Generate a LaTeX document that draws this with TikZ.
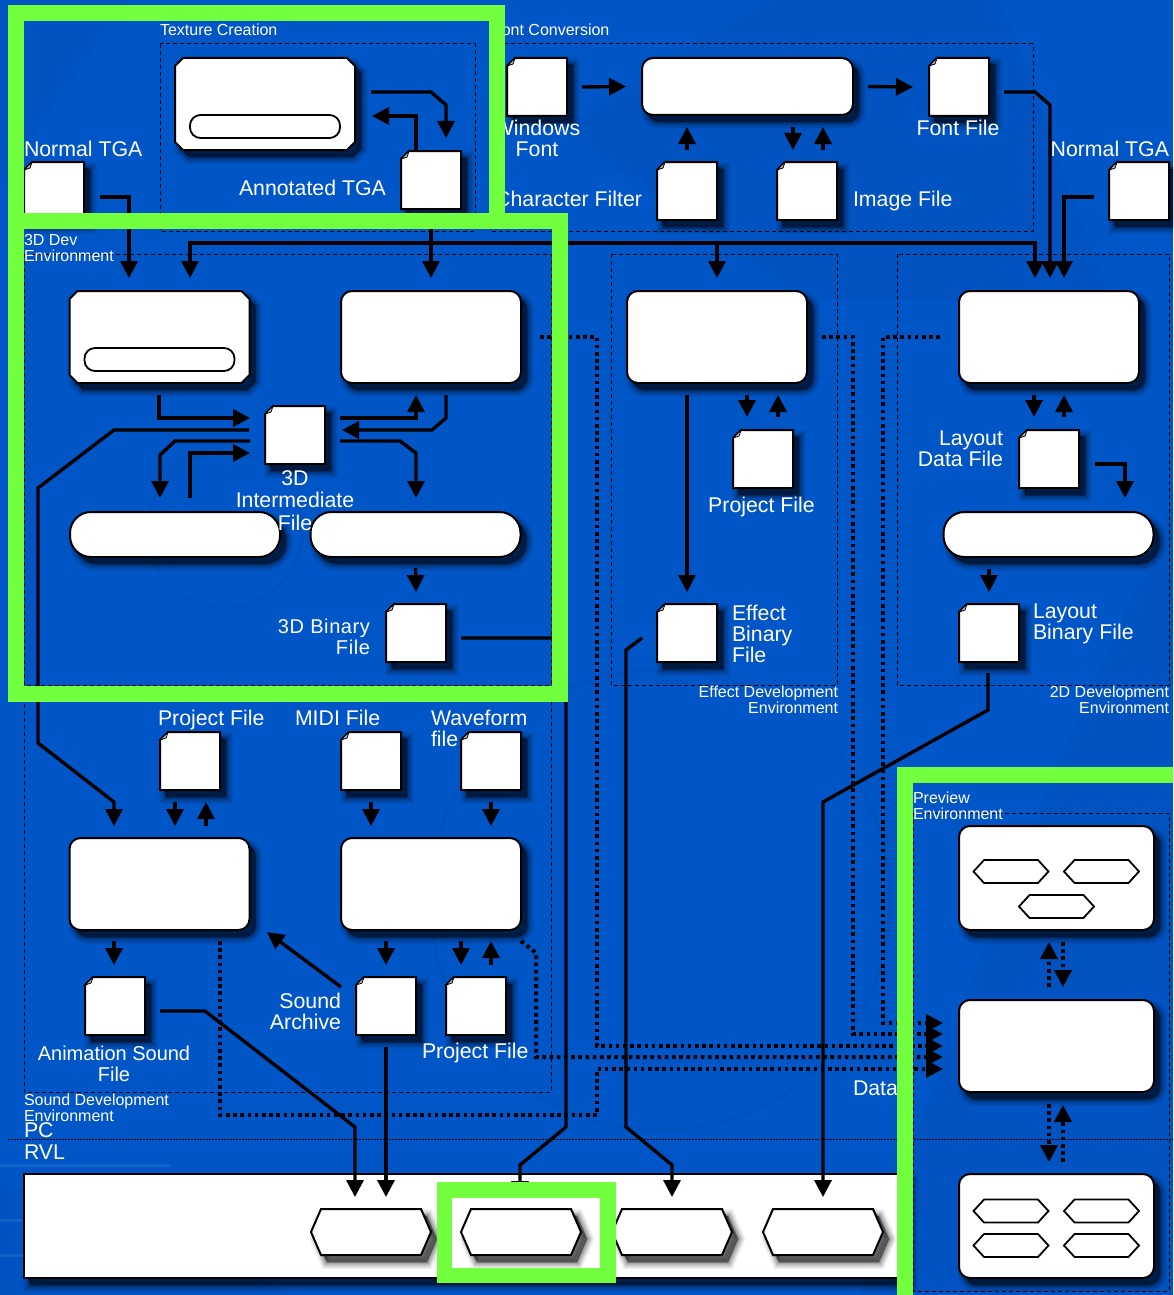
\documentclass[tikz,border=0pt]{standalone}
\usepackage{fontspec}
\setmainfont{Liberation Sans}
\usetikzlibrary{arrows.meta,shapes.symbols}
\definecolor{bgblue}{HTML}{0056C6}
\definecolor{bgdark}{HTML}{004FB8}
\definecolor{neon}{HTML}{72FF3E}
\tikzset{
  x=1pt,y=-1pt,
  every node/.style={inner sep=0pt,outer sep=0pt},
  shad/.style={
    preaction={draw=black,fill=black,line width=14pt,opacity=.05,transform canvas={xshift=6pt,yshift=-7pt}},
    preaction={draw=black,fill=black,line width=11.5pt,opacity=.06,transform canvas={xshift=6pt,yshift=-7pt}},
    preaction={draw=black,fill=black,line width=9pt,opacity=.08,transform canvas={xshift=6pt,yshift=-7pt}},
    preaction={draw=black,fill=black,line width=6.5pt,opacity=.10,transform canvas={xshift=6pt,yshift=-7pt}},
    preaction={draw=black,fill=black,line width=4pt,opacity=.12,transform canvas={xshift=6pt,yshift=-7pt}},
    preaction={draw=black,fill=black,line width=1.5pt,opacity=.16,transform canvas={xshift=6pt,yshift=-7pt}},
    preaction={fill=black,opacity=.2,transform canvas={xshift=4pt,yshift=-5pt}}},
  body/.style={draw=black,fill=white,line width=2pt},
  tool/.style={body,shad,rectangle,rounded corners=11pt,minimum width=#1,minimum height=92pt},
  tool/.default=180pt,
  snipbase/.style={rectangle,minimum width=180pt,minimum height=92pt},
  pill/.style={body,shad,rectangle,rounded corners=21pt,minimum width=210pt,minimum height=45pt},
  innerpill/.style={draw=black,fill=white,line width=1.8pt,rectangle,rounded corners=10.5pt,minimum width=150pt,minimum height=23pt},
  docbase/.style={rectangle,minimum width=60pt,minimum height=58pt},
  fold/.style={draw=black,fill=black!25,line width=.8pt},
  bighex/.style={body,shad,signal,signal to=west and east,signal pointer angle=133,minimum width=120pt,minimum height=46pt},
  smallhex/.style={draw=black,fill=white,line width=1.8pt,signal,signal to=west and east,signal pointer angle=95,minimum width=75pt,minimum height=23pt},
  band/.style={body,shad,rectangle,minimum width=881pt,minimum height=104pt},
  conn/.style={draw=black,line width=3.4pt},
  arr/.style={conn,-{Triangle[length=17pt,width=17pt]}},
  dots/.style={draw=black,line width=4pt,dash pattern=on 3.6pt off 3.6pt},
  dotarr/.style={dots,-{Triangle[length=17pt,width=17pt]}},
  group/.style={draw=black,line width=1pt,dash pattern=on 4pt off 3pt},
  neonbox/.style={draw=neon,line width=15.5pt},
  big/.style={text=white,font=\fontsize{21.3}{21}\selectfont,align=center},
  mid/.style={text=white,font=\fontsize{20}{21}\selectfont,align=center},
  small/.style={text=white,font=\fontsize{16}{16}\selectfont,align=left},
  smallr/.style={text=white,font=\fontsize{16}{16}\selectfont,align=right},
}
\newcommand\docnode[3]{%
  \node[docbase] (#1) at (#2,#3) {};
  \path[body,shad] ([shift={(-22,-29)}]#1.center) -- ([shift={(30,-29)}]#1.center) -- ([shift={(30,29)}]#1.center) -- ([shift={(-30,29)}]#1.center) -- ([shift={(-30,-21)}]#1.center) -- cycle;
  \filldraw[fold] ([shift={(-22,-29)}]#1.center) -- ([shift={(-24,-23)}]#1.center) -- ([shift={(-30,-21)}]#1.center) -- cycle;
}
\newcommand\snipnode[3]{%
  \node[snipbase] (#1) at (#2,#3) {};
  \path[body,shad] ([shift={(-82,-46)}]#1.center) -- ([shift={(82,-46)}]#1.center) -- ([shift={(90,-38)}]#1.center) -- ([shift={(90,38)}]#1.center) -- ([shift={(82,46)}]#1.center) -- ([shift={(-82,46)}]#1.center) -- ([shift={(-90,38)}]#1.center) -- ([shift={(-90,-38)}]#1.center) -- cycle;
}
\begin{document}
\begin{tikzpicture}
\useasboundingbox (0,0) rectangle (1173,1295);
\clip (0,0) rectangle (1173,1295);
% background
\fill[bgblue] (0,0) rectangle (1173,1295);
\fill[bgdark,opacity=.4] (1173,500) -- (1173,1295) -- (860,1295) -- (1000,900) -- cycle;
\fill[bgdark,opacity=.4] (0,1295) -- (0,1180) -- (300,1295) -- cycle;
\fill[bgdark,opacity=.4] (0,0) -- (130,0) -- (0,180) -- cycle;
\fill[bgdark,opacity=.3] (560,130) -- (760,0) -- (1000,0) -- (1110,300) -- (800,300) -- cycle;
\draw[black,opacity=.03,line width=3pt] (225,530) circle (78);
\draw[black,opacity=.03,line width=3pt] (660,900) circle (230);
\draw[white,opacity=.08,line width=3pt] (0,1165) -- (170,1165) (0,1220) -- (60,1220) (0,1255) -- (60,1255);

% environment frames
\draw[group] (160,44) rectangle (475,231);
\draw[group] (490,44) rectangle (1033,231);
\draw[group] (24,254) rectangle (551,685);
\draw[group] (611,254) rectangle (837,685);
\draw[group] (897,254) rectangle (1169,685);
\draw[group] (24,690) rectangle (551,1092);
\draw[group] (913,813) rectangle (1169,1291);
\draw[draw=black,line width=1pt,dash pattern=on 1.5pt off 1.5pt] (8,1139) -- (1173,1139);

% white platform band
\node[band] (bandrvl) at (464.5,1226) {};

% tools
\snipnode{texTool}{265}{104}
\node[innerpill] (texInner) at (265,126.5) {};
\node[tool=211pt,minimum height=57pt] (fontTool) at (747.5,86.5) {};
\snipnode{dccTool}{159.5}{337}
\node[innerpill] (dccInner) at (159.5,359.5) {};
\node[tool] (expTool) at (431,337) {};
\node[tool] (fxTool) at (717,337) {};
\node[tool] (layTool) at (1049,337) {};
\node[pill] (convA) at (175,534.5) {};
\node[pill] (convB) at (415.5,534.5) {};
\node[pill] (layConv) at (1048.5,534.5) {};
\node[tool] (animSnd) at (159.5,884) {};
\node[tool] (seqSnd) at (431,884) {};
\node[tool=195pt,minimum height=104pt] (prevA) at (1056.5,878) {};
\node[tool=195pt] (prevB) at (1056.5,1046) {};
\node[tool=195pt,minimum height=104pt] (prevC) at (1056.5,1226) {};
\node[smallhex] (hA) at (1011,871.5) {};
\node[smallhex] (hB) at (1101.5,871.5) {};
\node[smallhex] (hC) at (1056.5,906.5) {};
\node[smallhex] (hD) at (1011,1211) {};
\node[smallhex] (hE) at (1101.5,1211) {};
\node[smallhex] (hF) at (1011,1245.5) {};
\node[smallhex] (hG) at (1101.5,1245.5) {};
\node[bighex] (hexSnd) at (371,1232) {};
\node[bighex] (hexG3d) at (521,1232) {};
\node[bighex] (hexFx) at (672,1232) {};
\node[bighex] (hexLyt) at (823,1232) {};

% documents
\docnode{docNormalL}{54}{191}
\docnode{docAnnot}{431}{180}
\docnode{docWinFont}{537}{87}
\docnode{docFont}{959}{87}
\docnode{docFilter}{687}{191}
\docnode{docImage}{807}{191}
\docnode{docNormalR}{1139}{191}
\docnode{docInter}{295}{435}
\docnode{docBin}{416}{633}
\docnode{docFxProj}{763}{459}
\docnode{docLayData}{1049}{459}
\docnode{docFxBin}{687}{633}
\docnode{docLayBin}{989}{633}
\docnode{docSndProj}{190}{761}
\docnode{docMidi}{371}{761}
\docnode{docWave}{491}{761}
\docnode{docAnim}{115}{1006}
\docnode{docArch}{386}{1006}
\docnode{docSeqProj}{476}{1006}

% dotted data connectors
\coordinate (expOut) at (540,337);
\coordinate (fxOut) at (822,337);
\coordinate (layOut) at (940,337);
\coordinate (seqOut) at (521,941);
\coordinate (animOut) at (220,941);
\coordinate (inA) at (943,1023);
\coordinate (inB) at (943,1034);
\coordinate (inC) at (943,1046);
\coordinate (inD) at (943,1057);
\coordinate (inE) at (943,1069);
\draw[dotarr] (expOut) -- (597,337) -- (597,1046) -- (inC);
\draw[dotarr] (fxOut) -- (853,337) -- (853,1034) -- (inB);
\draw[dotarr] (layOut) -- (883,337) -- (883,1023) -- (inA);
\draw[dotarr] (seqOut) -- (536,953) -- (536,1057) -- (inD);
\draw[dotarr] (animOut) -- (220,1115) -- (597,1115) -- (597,1069) -- (inE);
\coordinate (pAu) at (1049,942); \coordinate (pBu) at (1049,987);
\coordinate (pAd) at (1063,942); \coordinate (pBd) at (1063,987);
\coordinate (pBs) at (1049,1104); \coordinate (pCs) at (1049,1162);
\coordinate (pBt) at (1063,1105); \coordinate (pCt) at (1063,1162);
\draw[dotarr] (pBu) -- (pAu);
\draw[dotarr] (pAd) -- (pBd);
\draw[dotarr] (pBs) -- (pCs);
\draw[dotarr] (pCt) -- (pBt);

% solid connectors: texture and font row
\coordinate (nlOut) at (100,197); \coordinate (dccInA) at (129,278);
\draw[arr] (nlOut) -- (129,197) -- (dccInA);
\coordinate (texOut) at (371,92); \coordinate (anIn) at (446,138);
\draw[arr] (texOut) -- (431,92) -- (446,105) -- (anIn);
\coordinate (anOut) at (416,152); \coordinate (texIn) at (372,116);
\draw[arr] (anOut) -- (416,116) -- (texIn);
\coordinate (anDown) at (431,212); \coordinate (expIn) at (431,278);
\draw[arr] (anDown) -- (expIn);
\coordinate (dccInB) at (190,278); \coordinate (layInA) at (1035,278);
\draw[arr] (431,243) -- (190,243) -- (dccInB);
\draw[arr] (431,243) -- (1035,243) -- (layInA);
\coordinate (fxIn) at (717,278);
\draw[arr] (717,243) -- (fxIn);
\coordinate (fOut) at (1004,92); \coordinate (layInB) at (1050,278);
\draw[arr] (fOut) -- (1035,92) -- (1050,105) -- (layInB);
\coordinate (nrOut) at (1094,197); \coordinate (layInC) at (1064,278);
\draw[arr] (nrOut) -- (1064,197) -- (layInC);
\draw[arr] ([xshift=15pt]docWinFont.east) -- ([xshift=-16pt]fontTool.west);
\draw[arr] ([xshift=15pt]fontTool.east) -- ([xshift=-16pt]docFont.west);
\draw[arr] ([yshift=12pt]docFilter.north) -- (687,127);
\coordinate (imgIn) at (793,150); \coordinate (imgSt) at (793,127);
\draw[arr] (imgSt) -- (imgIn);
\coordinate (imgOut) at (823,150); \coordinate (imgTp) at (823,127);
\draw[arr] (imgOut) -- (imgTp);

% 3D environment
\coordinate (dccOut) at (159,395); \coordinate (intA) at (250,418);
\draw[arr] (dccOut) -- (159,418) -- (intA);
\coordinate (intL) at (249,430); \coordinate (animIn) at (114,826);
\draw[arr] (intL) -- (114,430) -- (38,488) -- (38,743) -- (114,802) -- (animIn);
\coordinate (intLb) at (250,441); \coordinate (convAin) at (160,498);
\draw[arr] (intLb) -- (175,441) -- (160,455) -- (convAin);
\coordinate (convAout) at (190,498); \coordinate (intB) at (250,453);
\draw[arr] (convAout) -- (190,453) -- (intB);
\coordinate (intR) at (340,418); \coordinate (expBack) at (416,395);
\draw[arr] (intR) -- (416,418) -- (expBack);
\coordinate (expOutB) at (446,395); \coordinate (intC) at (342,430);
\draw[arr] (expOutB) -- (446,418) -- (432,430) -- (intC);
\coordinate (intRb) at (340,441); \coordinate (convBin) at (416,498);
\draw[arr] (intRb) -- (400,441) -- (416,453) -- (convBin);
\draw[arr] ([yshift=-11pt]convB.south) -- ([yshift=12pt]docBin.north);
\coordinate (binOut) at (461,638); \coordinate (g3dIn) at (520,1198);
\draw[arr] (binOut) -- (566,638) -- (566,1127) -- (520,1165) -- (g3dIn);

% effect
\coordinate (fxOutB) at (687,395); \coordinate (fxBinIn) at (687,592);
\draw[arr] (fxOutB) -- (fxBinIn);
\coordinate (fxA) at (747,395); \coordinate (fxB) at (747,417);
\draw[arr] (fxA) -- (fxB);
\coordinate (fxC) at (778,417); \coordinate (fxD) at (778,395);
\draw[arr] (fxC) -- (fxD);
\coordinate (fxBinOut) at (642,638); \coordinate (hexFxIn) at (672,1197);
\draw[arr] (fxBinOut) -- (626,650) -- (626,1127) -- (672,1165) -- (hexFxIn);

% layout
\coordinate (lyA) at (1034,395); \coordinate (lyB) at (1034,417);
\draw[arr] (lyA) -- (lyB);
\coordinate (lyC) at (1064,417); \coordinate (lyD) at (1064,395);
\draw[arr] (lyC) -- (lyD);
\coordinate (lyOut) at (1095,464); \coordinate (lyIn) at (1125,498);
\draw[arr] (lyOut) -- (1125,464) -- (lyIn);
\coordinate (lyBinSrc) at (989,569); \coordinate (lyBinIn) at (989,592);
\draw[arr] (lyBinSrc) -- (lyBinIn);
\coordinate (lbOut) at (988,673); \coordinate (hexLytIn) at (823,1197);
\draw[arr] (lbOut) -- (988,710) -- (823,802) -- (hexLytIn);

% sound
\coordinate (s1) at (175,802); \coordinate (s2) at (175,826);
\draw[arr] (s1) -- (s2);
\coordinate (s3) at (206,826); \coordinate (s4) at (206,802);
\draw[arr] (s3) -- (s4);
\coordinate (s5) at (371,802); \coordinate (s6) at (371,826);
\draw[arr] (s5) -- (s6);
\coordinate (s7) at (491,802); \coordinate (s8) at (491,826);
\draw[arr] (s7) -- (s8);
\coordinate (s9) at (114,941); \coordinate (s10) at (114,965);
\draw[arr] (s9) -- (s10);
\coordinate (s11) at (386,941); \coordinate (s12) at (386,965);
\draw[arr] (s11) -- (s12);
\coordinate (s13) at (461,941); \coordinate (s14) at (461,965);
\draw[arr] (s13) -- (s14);
\coordinate (s15) at (491,965); \coordinate (s16) at (491,941);
\draw[arr] (s15) -- (s16);
\coordinate (s17) at (341,987); \coordinate (s18) at (267,932);
\draw[arr] (s17) -- (s18);
\coordinate (animOutB) at (160,1011); \coordinate (hexA) at (355,1197);
\draw[arr] (animOutB) -- (205,1011) -- (355,1127) -- (hexA);
\coordinate (archOut) at (386,1047); \coordinate (hexB) at (386,1197);
\draw[arr] (archOut) -- (hexB);

% labels
\node[small,anchor=west] (lbTex) at (160,30) {Texture Creation};
\node[small,anchor=west] (lbFont) at (492,30) {Font Conversion};
\node[big,anchor=west] (lbNormalL) at (24,149) {Normal TGA};
\node[big,anchor=east] (lbNormalR) at (1169,149) {Normal TGA};
\node[big,anchor=west] (lbAnnot) at (239,188) {Annotated TGA};
\node[big] (lbWin) at (537,138.5) {Windows\\Font};
\node[big] (lbFontFile) at (958,128) {Font File};
\node[big,anchor=east] (lbFilter) at (642,199) {Character Filter};
\node[big,anchor=west] (lbImage) at (853,201) {Image File};
\node[small,anchor=west] (lb3d) at (24,248) {3D Dev\\Environment};
\node[big,font=\fontsize{21.3}{22.5}\selectfont] (lbInter) at (295,500.5) {3D\\Intermediate\\File};
\node[mid,anchor=east,align=right,font=\fontsize{20}{20.5}\selectfont\addfontfeatures{LetterSpace=3}] (lbBin) at (370,637) {3D Binary\\File};
\node[big] (lbFxProj) at (761.5,507) {Project File};
\node[big,anchor=west,align=left] (lbFxBin) at (732,634) {Effect\\Binary\\File};
\node[big,anchor=east,align=right] (lbLayData) at (1003,449) {Layout\\Data File};
\node[big,anchor=west,align=left] (lbLayBin) at (1033,624) {Layout\\Binary File};
\node[smallr,anchor=east] (lbFxEnv) at (838,700) {Effect Development\\Environment};
\node[smallr,anchor=east] (lb2dEnv) at (1169,700) {2D Development\\Environment};
\node[big,anchor=west] (lbSndProj) at (158,720) {Project File};
\node[big,anchor=west] (lbMidi) at (295,718) {MIDI File};
\node[big,anchor=west,align=left] (lbWave) at (431,728.5) {Waveform\\file};
\node[big,anchor=east,align=right] (lbArch) at (341,1011) {Sound\\Archive};
\node[mid] (lbAnim) at (114,1063.5) {Animation Sound\\File};
\node[big,anchor=west] (lbSeqProj) at (422,1053) {Project File};
\node[big,anchor=west] (lbData) at (853,1088) {Data};
\node[small,anchor=west] (lbSnd) at (24,1107.5) {Sound Development\\Environment};
\node[big,anchor=west] (lbPC) at (24,1130) {PC};
\node[big,anchor=west] (lbRVL) at (24,1152) {RVL};
\node[small,anchor=west] (lbPrev) at (913,806) {Preview\\Environment};

% highlight frames on top
\draw[neonbox] (16,13) rectangle (497,221);
\draw[neonbox] (16,221) rectangle (560,694);
\draw[neonbox] (905,775) rectangle (1200,1320);
\draw[neonbox] (444.5,1190) rectangle (608,1275.5);
\end{tikzpicture}
\end{document}
